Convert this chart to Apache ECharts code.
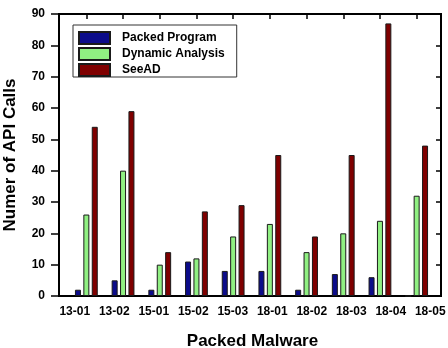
<!DOCTYPE html>
<html>
<head>
<meta charset="utf-8">
<script src="https://cdn.jsdelivr.net/npm/echarts@6/dist/echarts.min.js"></script>
<style>
  html, body { margin: 0; padding: 0; background: #fff; }
  #chart { width: 448px; height: 348px; }
</style>
</head>
<body>
<div id="chart"></div>
<script>
// 数据
var categories = ['13-01', '13-02', '15-01', '15-02', '15-03', '18-01', '18-02', '18-03', '18-04', '18-05']
var packedProgram = [2, 5, 2, 11, 8, 8, 2, 7, 6, 0]
var dynamicAnalysis = [26, 40, 10, 12, 19, 23, 14, 20, 24, 32]
var seeAD = [54, 59, 14, 27, 29, 45, 19, 45, 87, 48]
var yTicks = [0, 10, 20, 30, 40, 50, 60, 70, 80, 90]

var font = 'Liberation Sans, Arial, sans-serif'
var chart = echarts.init(document.getElementById('chart'))

function bar (name, data, color) {
  return {
    name: name,
    type: 'bar',
    xAxisIndex: 1,
    yAxisIndex: 2,
    data: data,
    barWidth: 6,
    barGap: '40%',
    itemStyle: { color: color, borderColor: '#1a1a1a', borderWidth: 1 }
  }
}

var option = {
  animation: false,
  textStyle: { fontFamily: font },
  legend: {
    orient: 'vertical',
    left: 73,
    top: 25,
    padding: [6, 12, 0, 5],
    itemWidth: 31,
    itemHeight: 12,
    itemGap: 2,
    borderColor: '#333',
    borderWidth: 1,
    icon: 'rect',
    textStyle: { fontFamily: font, fontWeight: 'bold', fontSize: 12, color: '#000', padding: [0, 0, 0, 7] },
    data: ['Packed Program', 'Dynamic Analysis', 'SeeAD']
  },
  grid: [
    // 外框 + y 轴
    { left: 59, right: 7, top: 14, bottom: 52, show: true, borderColor: '#000', borderWidth: 2, containLabel: false, outerBoundsMode: 'none' },
    // 柱子
    { left: 68, width: 367, top: 14, bottom: 52, containLabel: false, outerBoundsMode: 'none' },
    // x 轴标签
    { left: 55, width: 395, top: 14, bottom: 52, containLabel: false, outerBoundsMode: 'none' }
  ],
  xAxis: [
    { gridIndex: 0, type: 'value', min: 0, max: 1, show: false },
    {
      gridIndex: 1,
      type: 'category',
      position: 'top',
      data: categories,
      axisLine: { show: false, onZero: false },
      axisTick: { show: true, inside: true, length: 5, interval: 0, alignWithLabel: true, lineStyle: { color: '#000', width: 1.5 } },
      axisLabel: { show: false, interval: 0 }
    },
    {
      gridIndex: 2,
      type: 'category',
      data: categories,
      axisLine: { show: false, onZero: false },
      axisTick: { show: false },
      axisLabel: { margin: 10, color: '#000', fontWeight: 'bold', fontSize: 12, fontFamily: font, interval: 0 },
      name: 'Packed Malware',
      nameLocation: 'middle',
      nameGap: 37,
      nameTextStyle: { color: '#000', fontWeight: 'bold', fontSize: 17, fontFamily: font }
    }
  ],
  yAxis: [
    {
      gridIndex: 0,
      type: 'value',
      min: 0,
      max: 90,
      interval: 10,
      splitLine: { show: false },
      axisLine: { show: false },
      axisTick: { show: true, length: 8, lineStyle: { color: '#000', width: 1.5 } },
      axisLabel: {
        margin: 14,
        color: '#000',
        fontWeight: 'bold',
        fontSize: 12,
        fontFamily: font,
        formatter: function (v) { return yTicks.indexOf(v) >= 0 ? String(v) : '' }
      },
      name: 'Numer of API Calls',
      nameLocation: 'middle',
      nameGap: 40,
      nameTextStyle: { color: '#000', fontWeight: 'bold', fontSize: 17, fontFamily: font }
    },
    {
      gridIndex: 0,
      type: 'value',
      position: 'right',
      min: 0,
      max: 90,
      interval: 10,
      splitLine: { show: false },
      axisLine: { show: false },
      axisTick: { show: true, inside: true, length: 5, lineStyle: { color: '#000', width: 1.5 } },
      axisLabel: { show: false }
    },
    { gridIndex: 1, type: 'value', min: 0, max: 90, show: false },
    { gridIndex: 2, type: 'value', min: 0, max: 90, show: false }
  ],
  series: [
    bar('Packed Program', packedProgram, '#0c0c8a'),
    bar('Dynamic Analysis', dynamicAnalysis, '#90f082'),
    bar('SeeAD', seeAD, '#7f0000')
  ]
}

chart.setOption(option)
window.addEventListener('resize', function () {
  chart.resize()
})
</script>
</body>
</html>
